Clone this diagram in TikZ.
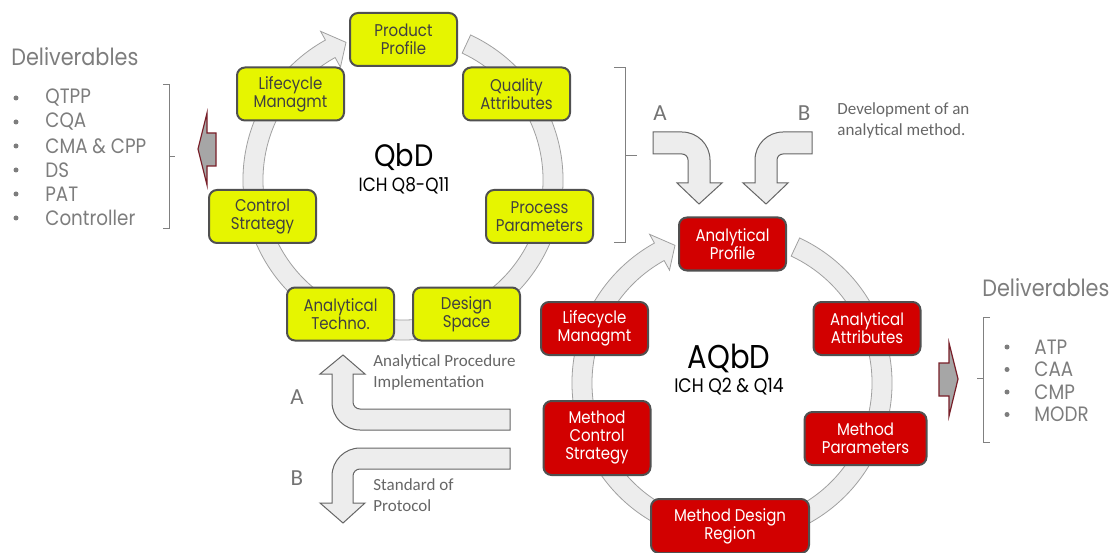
\documentclass[tikz,border=0pt]{standalone}
\usepackage{fontspec}
\setmainfont[FakeStretch=0.88]{Poppins}
\newfontfamily\notefont{Carlito}
\definecolor{qbdyellow}{RGB}{230,245,0}
\definecolor{aqbdred}{RGB}{210,0,0}
\definecolor{boxline}{RGB}{80,80,80}
\definecolor{ringfill}{RGB}{237,237,237}
\definecolor{ringline}{RGB}{160,160,160}
\definecolor{delivgray}{RGB}{125,125,125}
\definecolor{arrowred}{RGB}{120,30,40}
\tikzset{
  procbox/.style={draw=boxline, line width=1pt, rounded corners=4pt, minimum width=53.5pt,
    minimum height=26.5pt, inner sep=1pt, align=center, font=\fontsize{8.5}{9}\selectfont},
  qbdbox/.style={procbox, fill=qbdyellow, text=black!75},
  aqbdbox/.style={procbox, fill=aqbdred, text=white},
  ringshape/.style={fill=ringfill, draw=ringline, line width=0.4pt},
  bentarrow/.style={fill=ringfill, draw=black!60, line width=0.5pt},
  fatarrow/.style={fill=black!35, draw=arrowred, line width=0.6pt},
  bracket/.style={draw=black!50, line width=0.5pt},
  notetext/.style={text=black!60, font=\notefont\fontsize{8.5}{10.5}\selectfont, align=left, inner sep=0pt},
  bigletter/.style={text=black!55, font=\notefont\fontsize{11.5}{12}\selectfont},
  deliv/.style={text=delivgray, font=\fontsize{11.8}{12}\selectfont, inner sep=0pt},
  delivitem/.style={text=delivgray, font=\fontsize{10.4}{11}\selectfont, anchor=west, inner sep=0pt},
  bulletdot/.style={circle, fill=delivgray, inner sep=0pt, minimum size=2.5pt},
}
\begin{document}
\begin{tikzpicture}[x=0.5pt, y=0.5pt]
\useasboundingbox (0,0) rectangle (1112,552);

% QbD cycle
\coordinate (qbd) at (403,372);
\begin{scope}[shift={(qbd)}]
  \path[ringshape] (65:160) arc[start angle=65, end angle=-241, radius=160] -- (-241:170)
    -- (-247.5:149) -- (-241:129) -- (-241:140) arc[start angle=-241, end angle=65, radius=140] -- cycle;
\end{scope}
\node[qbdbox] (prodprof) at (403.5,512.5) {Product\\Profile};
\node[qbdbox] (qualattr) at (516.5,458) {Quality\\Attributes};
\node[qbdbox] (procparam) at (539.5,335.5) {Process\\Parameters};
\node[qbdbox] (designsp) at (466.5,238) {Design\\Space};
\node[qbdbox] (anatech) at (340.5,238) {Analytical\\Techno.};
\node[qbdbox] (ctrlstrat) at (262.5,335.5) {Control\\Strategy};
\node[qbdbox] (lifeq) at (290.5,458) {Lifecycle\\Managmt};
\node[font=\fontsize{15.5}{16}\selectfont] (qbdtitle) at (404,395) {QbD};
\node[font=\fontsize{9.6}{10}\selectfont] (qbdich) at (404,366) {ICH Q8-Q11};

% AQbD cycle
\coordinate (aqbd) at (732,169);
\begin{scope}[shift={(aqbd)}]
  \path[ringshape] (65:160) arc[start angle=65, end angle=-241, radius=160] -- (-241:170)
    -- (-247.5:149) -- (-241:129) -- (-241:140) arc[start angle=-241, end angle=65, radius=140] -- cycle;
\end{scope}
\node[aqbdbox] (anaprof) at (732.5,308) {Analytical\\Profile};
\node[aqbdbox] (anaattr) at (867,223.5) {Analytical\\Attributes};
\node[aqbdbox, minimum width=61pt] (methparam) at (865.5,113.5) {Method\\Parameters};
\node[aqbdbox, minimum width=79pt, minimum height=27pt] (methdesign) at (730,26) {Method Design\\Region};
\node[aqbdbox, minimum height=37pt] (methctrl) at (597,114) {Method\\Control\\Strategy};
\node[aqbdbox] (lifea) at (594.5,223.5) {Lifecycle\\Managmt};
\node[font=\fontsize{16.5}{17}\selectfont] (aqbdtitle) at (729,194) {AQbD};
\node[font=\fontsize{9.8}{10}\selectfont] (aqbdich) at (729,165) {ICH Q2 \& Q14};

% deliverables
\node[deliv, anchor=west] (delivl) at (11,495) {Deliverables};
\foreach \txt [count=\i] in {QTPP, CQA, CMA \& CPP, DS, PAT, Controller} {
  \node[bulletdot] (bl\i) at (16,478-24*\i) {};
  \node[delivitem] (dl\i) at (45,478-24*\i) {\txt};
}
\draw[bracket] (163,467) -- (169,467) -- (169,323) -- (163,323) (169,395) -- (175,395);
\draw[fatarrow] (216,419) -- (207,419) -- (207,439) -- (198,403) -- (207,367) -- (207,386) -- (216,386) -- cycle;

\node[deliv, anchor=west] (delivr) at (982,264) {Deliverables};
\foreach \txt [count=\i] in {ATP, CAA, CMP, MODR} {
  \node[bulletdot] (br\i) at (1007,227.5-22.5*\i) {};
  \node[delivitem] (dr\i) at (1034,227.5-22.5*\i) {\txt};
}
\draw[bracket] (990,235) -- (983,235) -- (983,110) -- (990,110) (983,174) -- (977,174);
\draw[fatarrow] (939,189) -- (949,189) -- (949,209) -- (958,173) -- (949,136) -- (949,156) -- (939,156) -- cycle;

\draw[bracket] (614,484) -- (625,484) -- (625,309) -- (614,309) (625,396) -- (637,396);

% A / B into the method
\draw[bentarrow] (653,420) -- (682,420) arc[start angle=90, end angle=0, radius=28] -- (710,369) -- (722,369)
  -- (699,348) -- (677,369) -- (688,369) -- (688,392) arc[start angle=0, end angle=90, radius=6] -- (653,398) -- cycle;
\draw[bentarrow] (812,420) -- (783,420) arc[start angle=90, end angle=180, radius=28] -- (755,369) -- (743,369)
  -- (766,348) -- (788,369) -- (777,369) -- (777,392) arc[start angle=180, end angle=90, radius=6] -- (812,398) -- cycle;
\node[bigletter] (la) at (660,439) {A};
\node[bigletter] (lb) at (804,439) {B};
\node[notetext, anchor=west] (devnote) at (837,431.5) {Development of an\\analytical method.};

% A / B out of the method
\draw[bentarrow] (510,143) -- (360,143) arc[start angle=270, end angle=180, radius=7] -- (353,178) -- (365,178)
  -- (343,197) -- (320,178) -- (332,178) -- (332,150) arc[start angle=180, end angle=270, radius=28] -- (510,122) -- cycle;
\draw[bentarrow] (510,104) -- (360,104) arc[start angle=90, end angle=180, radius=28] -- (332,49) -- (320,49)
  -- (343,29) -- (365,49) -- (353,49) -- (353,76) arc[start angle=180, end angle=90, radius=7] -- (510,83) -- cycle;
\node[bigletter] (la2) at (297,155) {A};
\node[bigletter] (lb2) at (297,74) {B};
\node[notetext, anchor=west] (apinote) at (373,179.5) {Analytical Procedure\\Implementation};
\node[notetext, anchor=west] (sopnote) at (373,56.5) {Standard of\\Protocol};
\end{tikzpicture}
\end{document}
